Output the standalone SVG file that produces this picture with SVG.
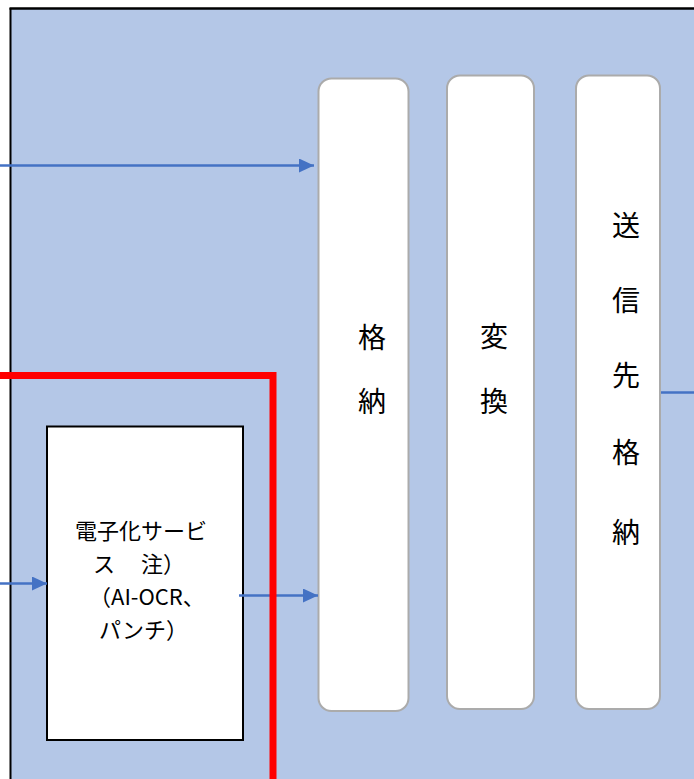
<svg xmlns="http://www.w3.org/2000/svg" width="694" height="779" viewBox="0 0 694 779">
<style>
.jp{font-family:"Noto Sans CJK JP","Noto Sans",sans-serif;fill:#000;}
.big{font-size:28px;text-anchor:middle;}
.mid{font-size:22px;}
.col{fill:#FFFFFF;stroke:#ABABAB;stroke-width:2;}
.conn{stroke:#4472C4;stroke-width:2.5;fill:none;}
</style>
<defs>
<marker id="ah" markerWidth="15" markerHeight="14" refX="15" refY="7" orient="auto" markerUnits="userSpaceOnUse">
<path d="M0,0 L15,7 L0,14 Z" fill="#4472C4"/>
</marker>
</defs>
<rect x="0" y="0" width="694" height="779" fill="#FFFFFF"/>
<g id="panel">
<rect x="10" y="8" width="690" height="780" fill="#B4C7E7"/>
<line x1="10.5" y1="8" x2="10.5" y2="779" stroke="#000" stroke-width="2"/>
<line x1="9.5" y1="8.5" x2="694" y2="8.5" stroke="#000" stroke-width="2.5"/>
</g>
<g id="node-kakuno">
<rect class="col" x="318.5" y="78.5" width="90" height="632.5" rx="13"/>
<text class="jp big" x="372" y="348">格</text>
<text class="jp big" x="372" y="412">納</text>
</g>
<g id="node-henkan">
<rect class="col" x="447" y="75.5" width="87" height="633.5" rx="13"/>
<text class="jp big" x="494" y="347">変</text>
<text class="jp big" x="494" y="412">換</text>
</g>
<g id="node-soshin">
<rect class="col" x="576" y="75.5" width="84" height="633.5" rx="13"/>
<text class="jp big" x="626" y="236">送</text>
<text class="jp big" x="626" y="311">信</text>
<text class="jp big" x="626" y="386">先</text>
<text class="jp big" x="626" y="463">格</text>
<text class="jp big" x="626" y="543">納</text>
</g>
<g id="node-denshika">
<rect x="47" y="426.5" width="196" height="313.5" fill="#FFFFFF" stroke="#000" stroke-width="2"/>
<text class="jp mid" x="75" y="539">電子化サービ</text>
<text class="jp mid" x="93" y="572">ス</text>
<text class="jp mid" x="141" y="572">注）</text>
<text class="jp mid" x="89" y="605">（AI-OCR、</text>
<text class="jp mid" x="99" y="638">パンチ）</text>
</g>
<g id="connectors">
<line class="conn" x1="0" y1="165.5" x2="314" y2="165.5" marker-end="url(#ah)"/>
<line class="conn" x1="0" y1="583.5" x2="47" y2="583.5" marker-end="url(#ah)"/>
<line class="conn" x1="239" y1="595.5" x2="318" y2="595.5" marker-end="url(#ah)"/>
<line class="conn" x1="661" y1="392.5" x2="694" y2="392.5"/>
</g>
<g id="boundary">
<polyline points="0,375.5 273,375.5 273,779" fill="none" stroke="#FF0000" stroke-width="7"/>
</g>
</svg>
